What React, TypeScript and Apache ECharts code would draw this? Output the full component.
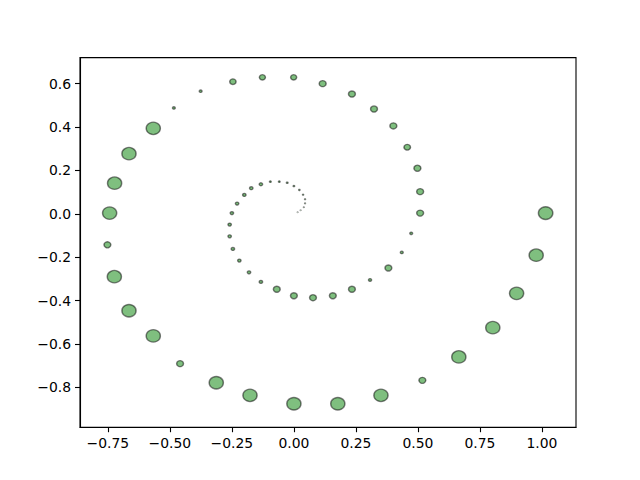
import { useEffect, useRef } from "react";
import * as echarts from "echarts";

// Spiral point centres (data units), inner to outer
const xValues = [
  0.015, 0.027, 0.040, 0.045, 0.045, 0.037, 0.022, 0.000, -0.027, -0.059, -0.095,
  -0.133, -0.172, -0.200, -0.229, -0.250, -0.259, -0.259, -0.246, -0.220, -0.181,
  -0.133, -0.069, 0.000, 0.077, 0.157, 0.234, 0.307, 0.381, 0.435, 0.473, 0.509,
  0.509, 0.498, 0.457, 0.401, 0.323, 0.234, 0.116, -0.001, -0.127, -0.246, -0.376,
  -0.484, -0.567, -0.665, -0.723, -0.743, -0.752, -0.724, -0.665, -0.567, -0.459,
  -0.313, -0.177, 0.000, 0.177, 0.351, 0.518, 0.665, 0.802, 0.898, 0.977, 1.015,
];
const yValues = [
  0.007, 0.016, 0.030, 0.048, 0.067, 0.088, 0.110, 0.128, 0.143, 0.148, 0.148,
  0.136, 0.118, 0.087, 0.047, 0.003, -0.050, -0.104, -0.162, -0.216, -0.270,
  -0.314, -0.348, -0.378, -0.387, -0.378, -0.348, -0.305, -0.250, -0.178, -0.090, 0.003,
  0.102, 0.210, 0.307, 0.405, 0.483, 0.552, 0.600, 0.629, 0.629, 0.609, 0.565,
  0.488, 0.394, 0.277, 0.141, 0.003, -0.143, -0.290, -0.447, -0.563, -0.691,
  -0.779, -0.837, -0.876, -0.876, -0.837, -0.768, -0.660, -0.525, -0.367, -0.191, 0.003,
];
// Circle radius of each point (data units)
const radii = [
  0.0010, 0.0012, 0.0014, 0.0017, 0.0020, 0.0023, 0.0026, 0.0030, 0.0032, 0.0032, 0.0034,
  0.0068, 0.0068, 0.0068, 0.0068, 0.0068, 0.0068, 0.0068, 0.0068, 0.0068, 0.0068,
  0.0068, 0.0138, 0.0138, 0.0138, 0.0138, 0.0138, 0.0062, 0.0138, 0.0057, 0.0057, 0.0140,
  0.0140, 0.0140, 0.0132, 0.0140, 0.0140, 0.0140, 0.0140, 0.0122, 0.0122, 0.0128, 0.0055,
  0.0055, 0.0285, 0.0285, 0.0285, 0.0285, 0.0138, 0.0285, 0.0285, 0.0285, 0.0138,
  0.0285, 0.0285, 0.0285, 0.0285, 0.0285, 0.0138, 0.0285, 0.0285, 0.0285, 0.0285, 0.0290,
];

const xTicks = [-0.75, -0.5, -0.25, 0, 0.25, 0.5, 0.75, 1.0];
const yTicks = [-0.8, -0.6, -0.4, -0.2, 0, 0.2, 0.4, 0.6];
const xRange = [-0.8625, 1.1375];
const yRange = [-0.984, 0.72];

const W = 640;
const H = 480;
const grid = { left: 80, right: 64, top: 57.6, bottom: 52.8 };

const fmt = (v: number, d: number) => {
  const s = (Math.abs(v) < 1e-9 ? 0 : v).toFixed(d);
  return s.replace("-", "\u2212");
};

export default function App() {
  const ref = useRef<HTMLDivElement>(null);
  useEffect(() => {
    if (!ref.current) return;
    const chart = echarts.init(ref.current, null, { renderer: "svg", width: W, height: H });
    const gw = W - grid.left - grid.right;
    const gh = H - grid.top - grid.bottom;
    const sx = gw / (xRange[1] - xRange[0]);
    const sy = gh / (yRange[1] - yRange[0]);
    const data = xValues.map((x, i) => [x, yValues[i], radii[i]]);
    const font = "DejaVu Sans";
    chart.setOption({
      animation: false,
      backgroundColor: "#ffffff",
      grid: {
        ...grid,
        show: true,
        borderColor: "#000000",
        borderWidth: 1.1,
        backgroundColor: "transparent",
      },
      xAxis: {
        type: "value",
        min: xRange[0],
        max: xRange[1],
        splitLine: { show: false },
        axisLine: { show: true, onZero: false, lineStyle: { color: "#000", width: 1.1 } },
        axisTick: {
          show: true,
          length: 5,
          inside: false,
          customValues: xTicks,
          lineStyle: { color: "#000", width: 1.1 },
        },
        axisLabel: {
          customValues: xTicks,
          margin: 9,
          color: "#000",
          fontFamily: font,
          fontSize: 13.9,
          formatter: (v: number) => fmt(v, 2),
        },
      },
      yAxis: {
        type: "value",
        min: yRange[0],
        max: yRange[1],
        splitLine: { show: false },
        axisLine: { show: true, onZero: false, lineStyle: { color: "#000", width: 1.1 } },
        axisTick: {
          show: true,
          length: 5,
          inside: false,
          customValues: yTicks,
          lineStyle: { color: "#000", width: 1.1 },
        },
        axisLabel: {
          customValues: yTicks,
          margin: 9,
          color: "#000",
          fontFamily: font,
          fontSize: 13.9,
          formatter: (v: number) => fmt(v, 1),
        },
      },
      series: [
        {
          type: "scatter",
          data,
          symbol: "circle",
          symbolSize: (val: number[]) => [2 * val[2] * sx, 2 * val[2] * sy],
          itemStyle: {
            color: "rgba(0,128,0,0.5)",
            borderColor: "rgba(0,0,0,0.5)",
            borderWidth: 1.39,
            opacity: 1,
          },
          emphasis: { disabled: true },
        },
      ],
    });
    return () => chart.dispose();
  }, []);
  return (
    <div
      ref={ref}
      style={{ position: "fixed", left: 0, top: 0, width: W, height: H, background: "#fff" }}
    />
  );
}
